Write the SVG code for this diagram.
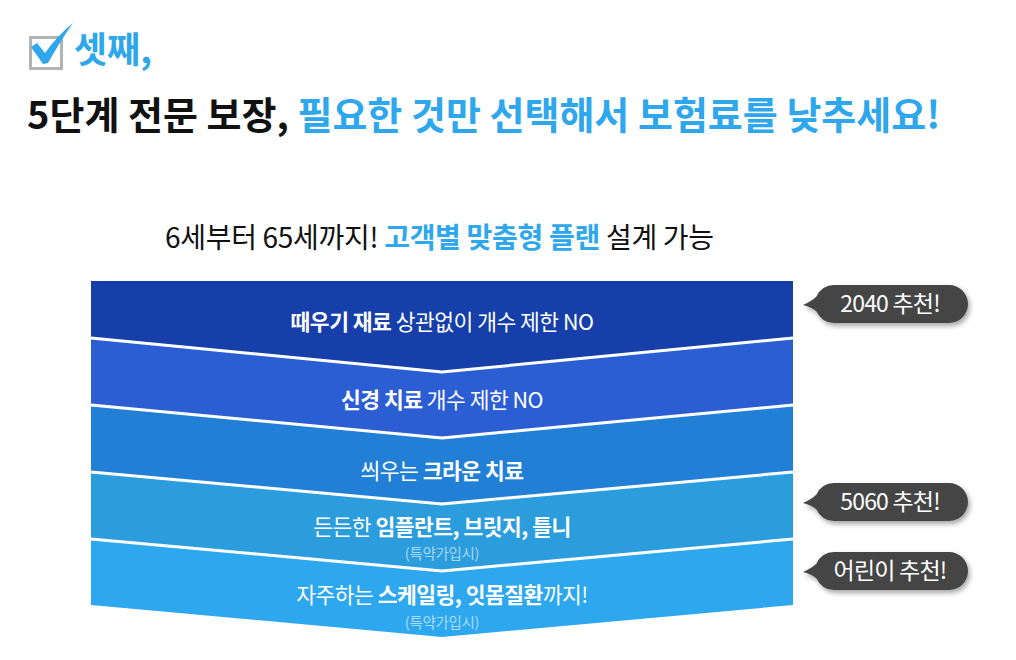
<svg xmlns="http://www.w3.org/2000/svg" width="1016" height="660" viewBox="0 0 1016 660">
<style>
text{font-family:"Noto Sans CJK KR","Noto Sans",sans-serif}
.h{font-weight:700}
.blue{fill:#2ea7ec}
.lbl{fill:#fff;font-size:21.5px;text-anchor:middle;letter-spacing:-0.5px}
.sub{fill:#fff;fill-opacity:0.6;font-size:14.5px;text-anchor:middle;letter-spacing:-0.3px}
.sep{fill:none;stroke:#fff;stroke-width:3}
.tag{fill:#fff;font-size:23px;text-anchor:middle;letter-spacing:-0.8px}
</style>
<defs>
<filter id="sh" x="-10%" y="-30%" width="130%" height="170%">
<feDropShadow dx="2" dy="3" stdDeviation="2.5" flood-color="#000" flood-opacity="0.35"/>
</filter>
<path id="bubble" d="M834 -19 H949 A19 19 0 0 1 949 19 H834 A19 19 0 0 1 816.5 7.5 Q812 3 803 1 Q812 -3 816.5 -7.5 A19 19 0 0 1 834 -19 Z" fill="#454545"/>
</defs>
<rect width="1016" height="660" fill="#fff"/>

<g id="heading">
<rect x="30.5" y="37.5" width="31" height="31" fill="none" stroke="#b3b3b3" stroke-width="3"/>
<path d="M31 47 L37 43 L45 53 Q57 36 73 23 Q61 40 48 63 L43 64 Z" fill="#2ea7ec"/>
<text x="74" y="63" class="h blue" font-size="36">셋째,</text>
<text x="27" y="129" class="h" font-size="38" fill="#111">5단계 전문 보장, <tspan class="blue">필요한 것만 선택해서 보험료를 낮추세요!</tspan></text>
</g>

<g id="subtitle">
<text x="165" y="248" font-size="28" fill="#111" letter-spacing="-0.3">6세부터 65세까지! <tspan class="h blue">고객별 맞춤형 플랜</tspan> 설계 가능</text>
</g>

<g id="band1">
<polygon points="91,281 793,281 793,338 442,372 91,338" fill="#163fa9"/>
<text x="442" y="330" class="lbl"><tspan class="h">때우기 재료</tspan> 상관없이 개수 제한 NO</text>
</g>
<g id="band2">
<polygon points="91,338 442,372 793,338 793,405 442,438 91,405" fill="#2b5dd3"/>
<text x="442" y="408" class="lbl"><tspan class="h">신경 치료</tspan> 개수 제한 NO</text>
</g>
<g id="band3">
<polygon points="91,405 442,438 793,405 793,472 442,504 91,472" fill="#2180d6"/>
<text x="442" y="479" class="lbl">씌우는 <tspan class="h">크라운 치료</tspan></text>
</g>
<g id="band4">
<polygon points="91,472 442,504 793,472 793,539 442,571 91,539" fill="#2b9ddd"/>
<text x="442" y="535" class="lbl">든든한 <tspan class="h">임플란트, 브릿지, 틀니</tspan></text>
<text x="442" y="559" class="sub">(특약가입시)</text>
</g>
<g id="band5">
<polygon points="91,539 442,571 793,539 793,605 442,637 91,605" fill="#2da8ee"/>
<text x="442" y="603" class="lbl">자주하는 <tspan class="h">스케일링, 잇몸질환</tspan>까지!</text>
<text x="442" y="628" class="sub">(특약가입시)</text>
</g>

<g id="connectors">
<polyline class="sep" points="91,338 442,372 793,338"/>
<polyline class="sep" points="91,405 442,438 793,405"/>
<polyline class="sep" points="91,472 442,504 793,472"/>
<polyline class="sep" points="91,539 442,571 793,539"/>
</g>

<g id="tag2040" transform="translate(0,304)">
<use href="#bubble" filter="url(#sh)"/>
<text x="890" y="8" class="tag">2040 추천!</text>
</g>
<g id="tag5060" transform="translate(0,502)">
<use href="#bubble" filter="url(#sh)"/>
<text x="890" y="8" class="tag">5060 추천!</text>
</g>
<g id="tagKids" transform="translate(0,571)">
<use href="#bubble" filter="url(#sh)"/>
<text x="890" y="8" class="tag">어린이 추천!</text>
</g>
</svg>
